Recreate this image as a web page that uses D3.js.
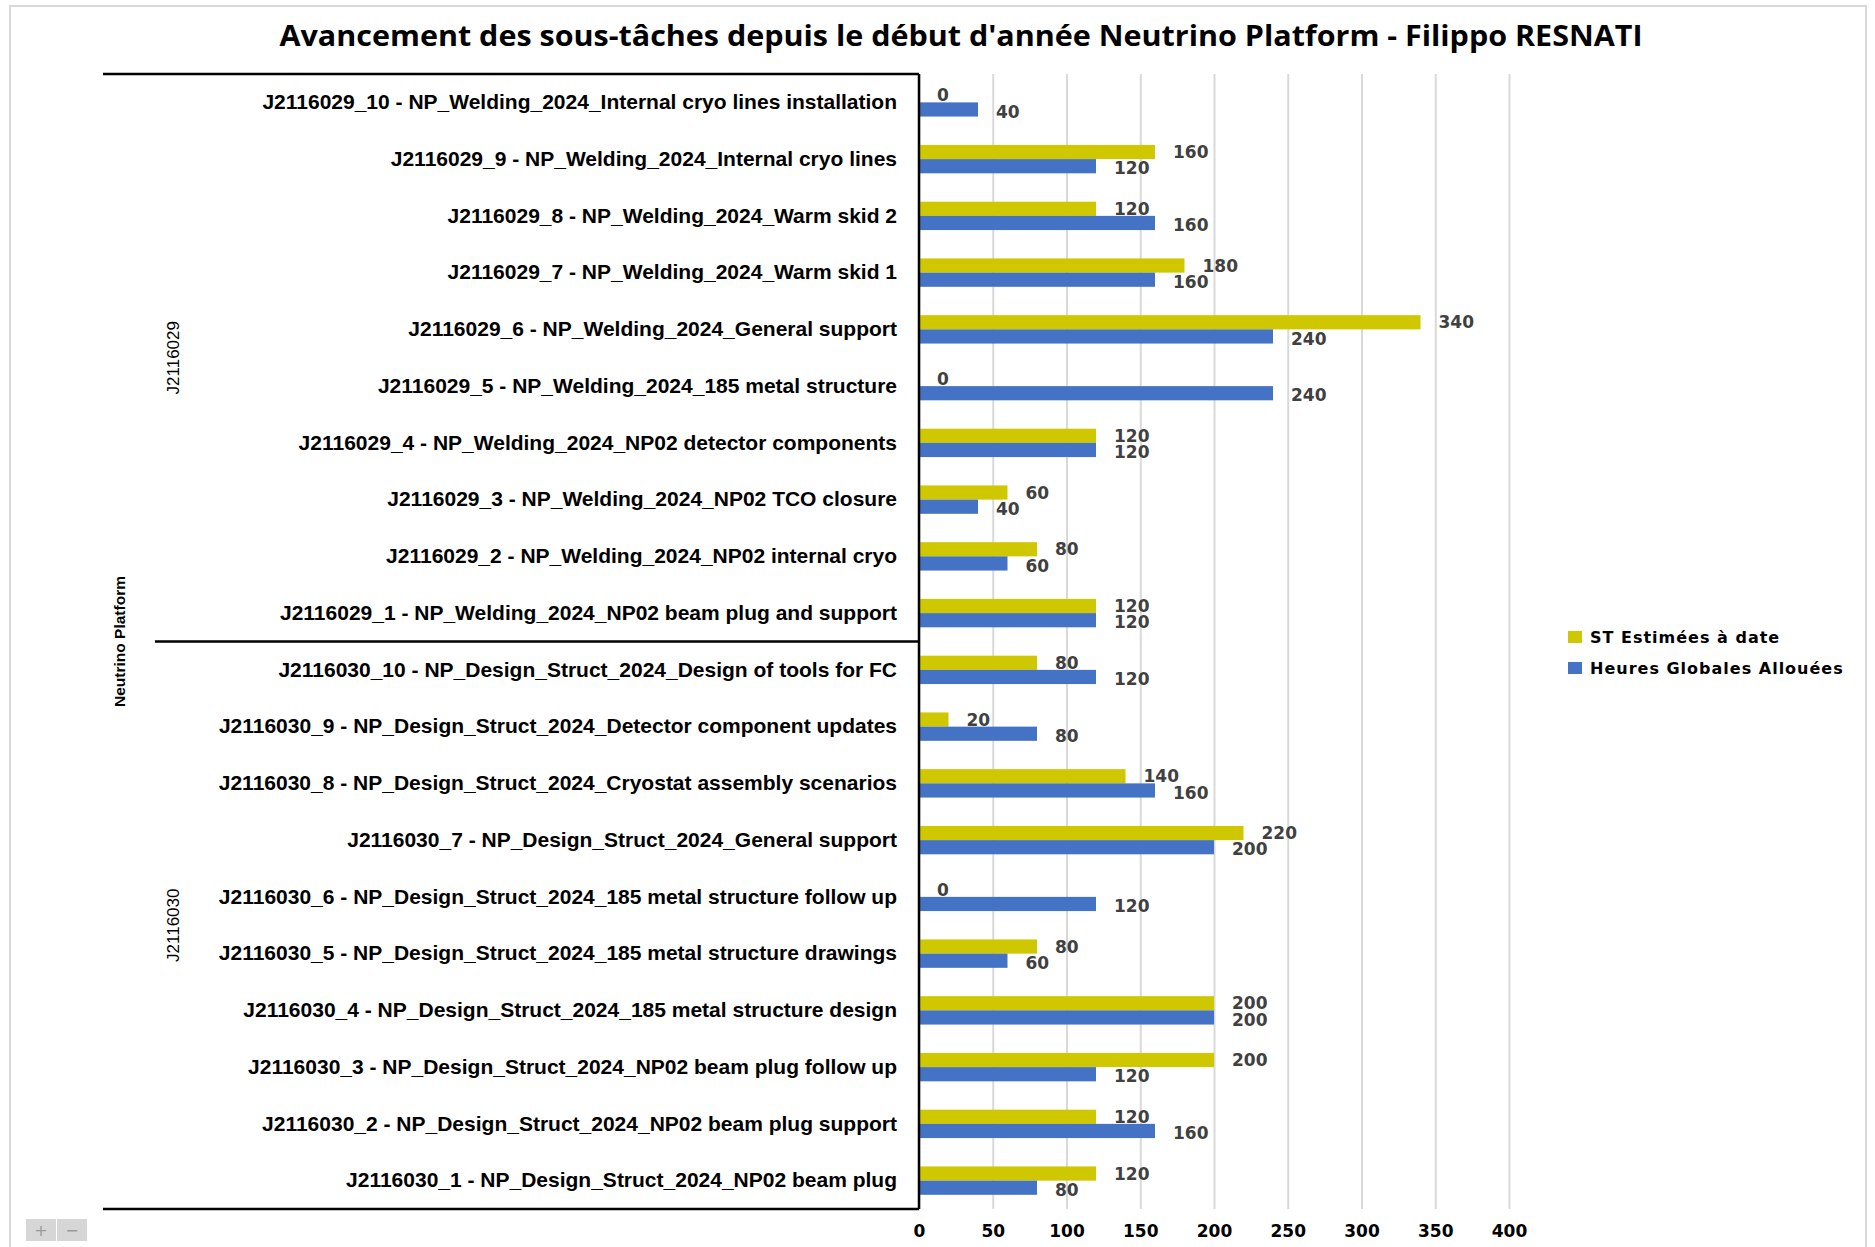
<!DOCTYPE html>
<html>
<head>
<meta charset="utf-8">
<script src="https://cdn.jsdelivr.net/npm/d3@7"></script>
<style>
  html, body { margin: 0; padding: 0; background: #fff; }
  svg { display: block; }
</style>
</head>
<body>
<svg id="chart" width="1875" height="1247"></svg>
<script>
const categories = [
  "J2116029_10 - NP_Welding_2024_Internal cryo lines installation",
  "J2116029_9 - NP_Welding_2024_Internal cryo lines",
  "J2116029_8 - NP_Welding_2024_Warm skid 2",
  "J2116029_7 - NP_Welding_2024_Warm skid 1",
  "J2116029_6 - NP_Welding_2024_General support",
  "J2116029_5 - NP_Welding_2024_185 metal structure",
  "J2116029_4 - NP_Welding_2024_NP02 detector components",
  "J2116029_3 - NP_Welding_2024_NP02 TCO closure",
  "J2116029_2 - NP_Welding_2024_NP02 internal cryo",
  "J2116029_1 - NP_Welding_2024_NP02 beam plug and support",
  "J2116030_10 - NP_Design_Struct_2024_Design of tools for FC",
  "J2116030_9 - NP_Design_Struct_2024_Detector component updates",
  "J2116030_8 - NP_Design_Struct_2024_Cryostat assembly scenarios",
  "J2116030_7 - NP_Design_Struct_2024_General support",
  "J2116030_6 - NP_Design_Struct_2024_185 metal structure follow up",
  "J2116030_5 - NP_Design_Struct_2024_185 metal structure drawings",
  "J2116030_4 - NP_Design_Struct_2024_185 metal structure design",
  "J2116030_3 - NP_Design_Struct_2024_NP02 beam plug follow up",
  "J2116030_2 - NP_Design_Struct_2024_NP02 beam plug support",
  "J2116030_1 - NP_Design_Struct_2024_NP02 beam plug"
];
const stEstimees = [0,160,120,180,340,0,120,60,80,120, 80,20,140,220,0,80,200,200,120,120];
const heuresAllouees = [40,120,160,160,240,240,120,40,60,120, 120,80,160,200,120,60,200,120,160,80];
const seriesNames = ["ST Estimées à date", "Heures Globales Allouées"];
const seriesColors = ["#CFC700", "#4472C4"];
const xTicks = [0,50,100,150,200,250,300,350,400];
const groups = [
  {name: "J2116029", first: 0, last: 9},
  {name: "J2116030", first: 10, last: 19}
];
const topGroup = "Neutrino Platform";
const title = "Avancement des sous-tâches depuis le début d'année Neutrino Platform - Filippo RESNATI";

(function () {
const svg = d3.select("#chart");
const pLeft = 919, pRight = 1509, pTop = 74, pBottom = 1209;

svg.append("rect").attr("x", 10).attr("y", 6).attr("width", 1856).attr("height", 1260)
  .attr("fill", "none").attr("stroke", "#d9d9d9").attr("stroke-width", 2);

const x = d3.scaleLinear().domain([0, 400]).range([pLeft, pRight]);
const y = d3.scaleBand().domain(categories).range([pTop, pBottom]);
const ySub = d3.scaleBand().domain(seriesNames).range([0, y.bandwidth()]).paddingOuter(1).paddingInner(0);

const xAxis = d3.axisBottom(x).tickValues(xTicks).tickSize(-(pBottom - pTop)).tickPadding(16);
const gx = svg.append("g").attr("transform", `translate(0,${pBottom})`).call(xAxis);
gx.select(".domain").remove();
gx.selectAll(".tick line").attr("stroke", "#d9d9d9").attr("stroke-width", 2);
gx.selectAll(".tick text").attr("font-family", "DejaVu Sans").attr("font-weight", "bold")
  .attr("font-size", 17).attr("fill", "#000");

const rows = categories.map((c, i) => ({cat: c, vals: [stEstimees[i], heuresAllouees[i]]}));
const rowG = svg.append("g").selectAll("g").data(rows).join("g")
  .attr("transform", d => `translate(0,${y(d.cat)})`);
rowG.selectAll("rect").data(d => d.vals.map((v, k) => ({v, k}))).join("rect")
  .attr("x", x(0))
  .attr("y", d => ySub(seriesNames[d.k]))
  .attr("width", d => x(d.v) - x(0))
  .attr("height", ySub.bandwidth())
  .attr("fill", d => seriesColors[d.k]);
rowG.selectAll("text").data(d => d.vals.map((v, k) => ({v, k}))).join("text")
  .attr("x", d => x(d.v) + 18)
  .attr("y", d => ySub(seriesNames[d.k]) + ySub.bandwidth() / 2 + (d.k === 0 ? 0 : 2))
  .attr("dy", "0.36em")
  .attr("font-family", "DejaVu Sans").attr("font-weight", "bold").attr("font-size", 17)
  .attr("fill", "#404040")
  .text(d => d.v);

const yAxis = d3.axisLeft(y).tickSize(0).tickPadding(22);
const gy = svg.append("g").attr("transform", `translate(${pLeft},0)`).call(yAxis);
gy.select(".domain").remove();
gy.selectAll(".tick text").attr("font-family", "'Liberation Sans Narrow', 'Liberation Sans', sans-serif")
  .attr("font-weight", "bold").attr("font-size", 21).attr("fill", "#000");

const lineCol = "#000";
svg.append("line").attr("x1", pLeft).attr("x2", pLeft).attr("y1", pTop).attr("y2", pBottom)
  .attr("stroke", lineCol).attr("stroke-width", 2.5);
svg.append("line").attr("x1", 103).attr("x2", pLeft).attr("y1", pTop).attr("y2", pTop)
  .attr("stroke", lineCol).attr("stroke-width", 2.5);
svg.append("line").attr("x1", 103).attr("x2", pLeft).attr("y1", pBottom).attr("y2", pBottom)
  .attr("stroke", lineCol).attr("stroke-width", 2.5);
groups.slice(1).forEach(g => {
  const yy = y(categories[g.first]);
  svg.append("line").attr("x1", 155).attr("x2", pLeft).attr("y1", yy).attr("y2", yy)
    .attr("stroke", lineCol).attr("stroke-width", 2.5);
});

groups.forEach(g => {
  const cy = (y(categories[g.first]) + y(categories[g.last]) + y.bandwidth()) / 2;
  svg.append("text").attr("transform", `translate(173,${cy}) rotate(-90)`)
    .attr("text-anchor", "middle").attr("dy", "0.35em")
    .attr("font-family", "'Liberation Sans Narrow', 'Liberation Sans', sans-serif")
    .attr("font-size", 17).attr("fill", "#000").text(g.name);
});
svg.append("text").attr("transform", `translate(120,${(pTop + pBottom) / 2}) rotate(-90)`)
  .attr("text-anchor", "middle").attr("dy", "0.35em")
  .attr("font-family", "'Liberation Sans Narrow', 'Liberation Sans', sans-serif")
  .attr("font-weight", "bold")
  .attr("font-size", 15.5).attr("fill", "#000").text(topGroup);

svg.append("text").attr("x", 961).attr("y", 36).attr("dy", "0.36em").attr("text-anchor", "middle")
  .attr("font-family", "'Open Sans', sans-serif").attr("font-weight", "bold")
  .attr("font-size", 28).attr("textLength", 1363).attr("lengthAdjust", "spacingAndGlyphs")
  .attr("fill", "#000").text(title);

const leg = svg.append("g").selectAll("g").data(seriesNames).join("g")
  .attr("transform", (d, i) => `translate(1568,${637 + i * 31})`);
leg.append("rect").attr("x", 0).attr("y", -6).attr("width", 14).attr("height", 12)
  .attr("fill", (d, i) => seriesColors[i]);
leg.append("text").attr("x", 22).attr("y", 0).attr("dy", "0.36em")
  .attr("font-family", "DejaVu Sans").attr("font-weight", "bold").attr("font-size", 16)
  .attr("letter-spacing", 1)
  .attr("fill", "#000").text(d => d);

[["+", 26], ["−", 57]].forEach(([t, bx]) => {
  svg.append("rect").attr("x", bx).attr("y", 1219).attr("width", 30).attr("height", 22)
    .attr("fill", "#d6d6d6");
  svg.append("text").attr("x", bx + 15).attr("y", 1230).attr("dy", "0.36em").attr("text-anchor", "middle")
    .attr("font-family", "DejaVu Sans").attr("font-size", 16).attr("fill", "#9a9a9a").text(t);
});
})();
</script>
</body>
</html>
